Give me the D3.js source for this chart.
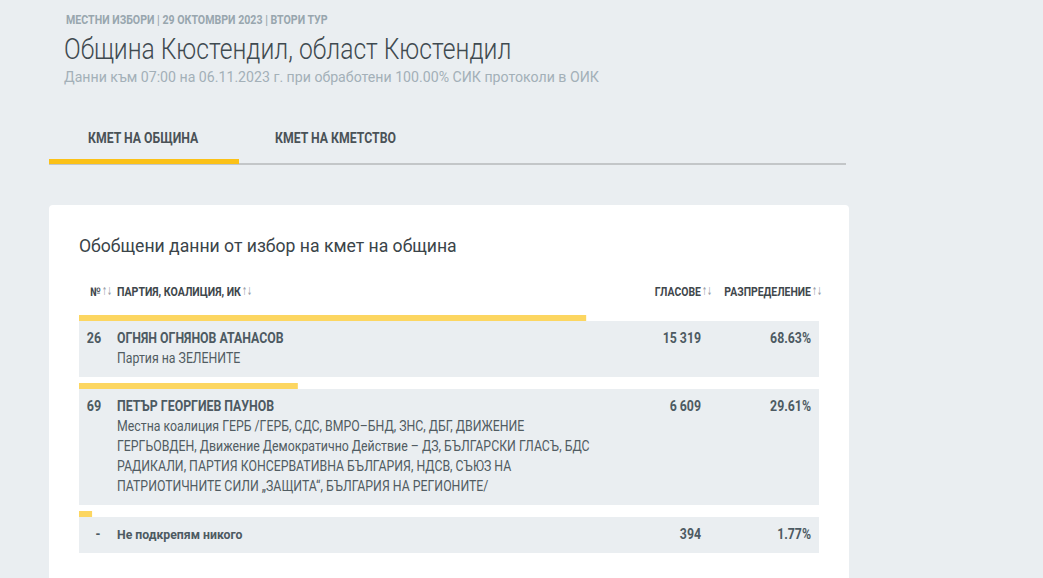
<!DOCTYPE html>
<html>
<head>
<meta charset="utf-8">
<script src="https://cdn.jsdelivr.net/npm/d3@7"></script>
<style>
  html, body { margin: 0; padding: 0; background: #eaeef1; overflow: hidden; }
  text { font-family: Roboto, sans-serif; }
</style>
</head>
<body>
<div id="chart-area"></div>
<script>
const WIDTH = 1043
const HEIGHT = 578

// Data
const numbers = ["26", "69", "-"]
const names = ["ОГНЯН ОГНЯНОВ АТАНАСОВ", "ПЕТЪР ГЕОРГИЕВ ПАУНОВ", "Не подкрепям никого"]
const parties = [
  ["Партия на ЗЕЛЕНИТЕ"],
  ["Местна коалиция ГЕРБ /ГЕРБ, СДС, ВМРО–БНД, ЗНС, ДБГ, ДВИЖЕНИЕ",
   "ГЕРГЬОВДЕН, Движение Демократично Действие – ДЗ, БЪЛГАРСКИ ГЛАСЪ, БДС",
   "РАДИКАЛИ, ПАРТИЯ КОНСЕРВАТИВНА БЪЛГАРИЯ, НДСВ, СЪЮЗ НА",
   "ПАТРИОТИЧНИТЕ СИЛИ „ЗАЩИТА“, БЪЛГАРИЯ НА РЕГИОНИТЕ/"],
  []
]
const votes = ["15 319", "6 609", "394"]
const shares = [68.63, 29.61, 1.77]
const tabs = ["КМЕТ НА ОБЩИНА", "КМЕТ НА КМЕТСТВО"]

const svg = d3.select("#chart-area").append("svg")
  .attr("width", WIDTH)
  .attr("height", HEIGHT)
  .style("display", "block")

// text squeezed sideways, there is no condensed Roboto here
function label(x, y, str, size, weight, color, squeeze, anchor) {
  return svg.append("text")
    .attr("transform", `translate(${x}, ${y}) scale(${squeeze}, 1)`)
    .attr("font-size", size)
    .attr("font-weight", weight)
    .attr("fill", color)
    .attr("text-anchor", anchor || "start")
    .text(str)
}

function sortArrows(x, y) {
  label(x, y, "↑↓", 11, 400, "#9aa3a8", 0.55)
    .style("font-family", "'DejaVu Sans'")
}

// Header
label(66, 24, "МЕСТНИ ИЗБОРИ | 29 ОКТОМВРИ 2023 | ВТОРИ ТУР", 12.5, 700, "#98a6ae", 0.85)
label(64, 59, "Община Кюстендил, област Кюстендил", 29, 300, "#3f4a50", 0.85)
label(64, 82, "Данни към 07:00 на 06.11.2023 г. при обработени 100.00% СИК протоколи в ОИК", 15.5, 400, "#a3b0b8", 0.914)

// Tabs
svg.append("rect").attr("x", 49).attr("y", 163).attr("width", 797).attr("height", 2).attr("fill", "#c3c6c8")
svg.append("rect").attr("x", 49).attr("y", 159).attr("width", 190).attr("height", 5).attr("fill", "#fbc117")
label(88, 143, tabs[0], 14, 700, "#4a5257", 0.877)
label(275, 143, tabs[1], 14, 700, "#4a5257", 0.877)

// Card
svg.append("rect").attr("x", 49).attr("y", 205).attr("width", 800).attr("height", 400).attr("rx", 4).attr("fill", "#fff")
label(79, 252, "Обобщени данни от избор на кмет на община", 19, 400, "#3a4449", 0.927)

// Table head
label(90, 296, "№", 12, 700, "#3f474c", 0.87)
sortArrows(102, 295)
label(117, 296, "ПАРТИЯ, КОАЛИЦИЯ, ИК", 12, 700, "#3f474c", 0.883)
sortArrows(242, 295)
label(701, 296, "ГЛАСОВЕ", 12, 700, "#3f474c", 0.87, "end")
sortArrows(702, 295)
label(811, 296, "РАЗПРЕДЕЛЕНИЕ", 12, 700, "#3f474c", 0.87, "end")
sortArrows(812, 295)

// Scales
const x = d3.scaleLinear()
  .domain([0, 100])
  .range([79, 818])

// Rows
let rowTop = 315
numbers.forEach((num, i) => {
  const lines = parties[i]
  const rowH = lines.length ? 26 + lines.length * 20 + 10 : 36
  const isNone = lines.length === 0

  svg.append("rect")
    .attr("x", x(0)).attr("y", rowTop)
    .attr("width", x(shares[i]) - x(0)).attr("height", 6)
    .attr("fill", "#fcd661")
  svg.append("rect")
    .attr("x", x(0)).attr("y", rowTop + 6)
    .attr("width", x(100) - x(0) + 1).attr("height", rowH)
    .attr("fill", "#eaeef1")

  const base = rowTop + 28
  const size = isNone ? 13 : 14
  label(isNone ? 98 : 94, base, num, 14, 700, "#4d5a62", 0.9, "middle")
  label(117, base, names[i], size, 700, "#4d5a62", isNone ? 0.945 : 0.88)
  lines.forEach((line, j) => {
    label(117, base + 20 + j * 20, line, 14, 400, "#515c62", 0.88)
  })
  label(701, base, votes[i], 14, 700, "#4d5a62", 0.88, "end")
  label(811, base, shares[i].toFixed(2) + "%", 14, 700, "#4d5a62", 0.88, "end")

  rowTop += 6 + rowH + 6
})
</script>
</body>
</html>
